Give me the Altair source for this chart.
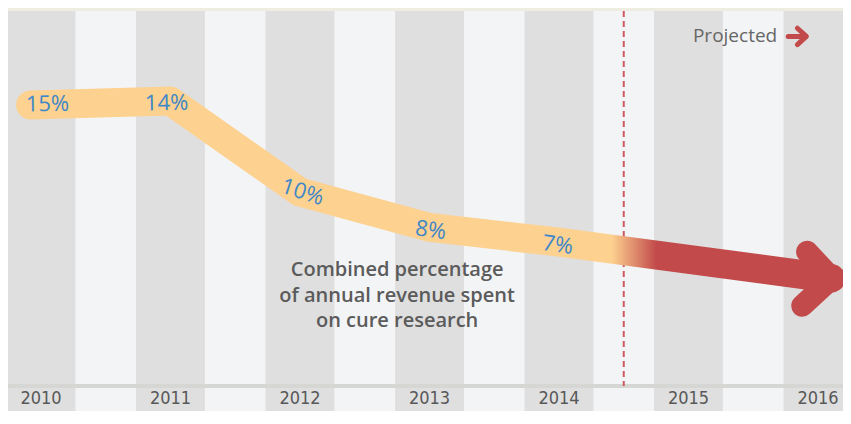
import altair as alt
import pandas as pd

# ---- data ----
years = [2010, 2011, 2012, 2013, 2014, 2015, 2016]

# centre line of the thick band (x in years, y in plotted percentage level)
line_x = [2009.92, 2011.0, 2012.0, 2013.0, 2014.0, 2016.1]
line_level = [14.35, 14.55, 9.9, 8.1, 7.35, 5.5]

# arrow head (chevron) points
head_x = [2015.916, 2016.107, 2015.878]
head_level = [6.85, 5.5, 4.1]

# value labels
label_text = ["15%", "14%", "10%", "8%", "7%"]
label_x = [2010.05, 2010.97, 2012.02, 2013.01, 2013.99]
label_level = [14.4, 14.45, 9.9, 7.95, 7.2]

# small "Projected" arrow icon (shaft + chevron)
icon_part = ["shaft", "shaft", "tip", "tip", "tip"]
icon_x = [2015.77, 2015.905, 2015.841, 2015.91, 2015.841]
icon_level = [17.85, 17.85, 18.27, 17.85, 17.43]

projection_start = 2014.5
note_text = "Combined percentage\nof annual revenue spent\non cure research"

# ---- styling ----
ORANGE = "#fdd190"
RED = "#c24a4a"
BLUE = "#3e87c8"
DARK = "#dfdfdf"
LIGHT = "#f3f4f6"
CREAM = "#efede1"

W, H = 835, 400
TOP = 19.15
xs = alt.Scale(domain=[2009.7452, 2016.1931], nice=False, zero=False)
ys = alt.Scale(domain=[-1.277, TOP], nice=False, zero=False)

stripe_df = pd.DataFrame({"year": years})
line_df = pd.DataFrame({"x": line_x, "y": line_level, "o": range(len(line_x))})
head_df = pd.DataFrame({"x": head_x, "y": head_level, "o": range(len(head_x))})
label_df = pd.DataFrame({"x": label_x, "y": label_level, "t": label_text})
icon_df = pd.DataFrame({"part": icon_part, "x": icon_x, "y": icon_level,
                        "o": range(len(icon_x))})

stripes = alt.Chart(stripe_df).transform_calculate(
    x0="datum.year - 0.266", x1="datum.year + 0.266"
).mark_rect(color=DARK).encode(
    x=alt.X("x0:Q", scale=xs, axis=None),
    x2="x1:Q",
    y=alt.value(0),
    y2=alt.value(H),
)

year_labels = alt.Chart(stripe_df).mark_text(
    font="DejaVu Sans Condensed, Liberation Sans Narrow, sans-serif",
    fontSize=18, color="#585858", baseline="middle", align="center"
).encode(
    x=alt.X("year:Q", scale=xs, axis=None),
    y=alt.datum(-0.66, scale=ys, axis=None),
    text=alt.Text("year:N"),
)

baseline_rule = alt.Chart(stripe_df).mark_rule(color="#d6d6d3", strokeWidth=3).encode(
    y=alt.datum(0, scale=ys, axis=None),
)

proj_rule = alt.Chart(pd.DataFrame({"x": [projection_start]})).mark_rule(
    color="#cc5a60", strokeWidth=2, strokeDash=[6, 4]
).encode(
    x=alt.X("x:Q", scale=xs, axis=None),
    y=alt.datum(TOP, scale=ys, axis=None),
    y2=alt.datum(0),
)

gradient = {
    "gradient": "linear", "x1": 0, "y1": 0, "x2": 1, "y2": 0,
    "stops": [
        {"offset": 0, "color": ORANGE},
        {"offset": 0.726, "color": ORANGE},
        {"offset": 0.782, "color": RED},
        {"offset": 1, "color": RED},
    ],
}

band = alt.Chart(line_df).mark_line(
    stroke=gradient, strokeWidth=29, strokeCap="round", strokeJoin="round", clip=True
).encode(
    x=alt.X("x:Q", scale=xs, axis=None),
    y=alt.Y("y:Q", scale=ys, axis=None),
    order="o:Q",
)

head = alt.Chart(head_df).mark_line(
    color=RED, strokeWidth=22, strokeCap="round", strokeJoin="miter", clip=True
).encode(
    x=alt.X("x:Q", scale=xs, axis=None),
    y=alt.Y("y:Q", scale=ys, axis=None),
    order="o:Q",
)

angles = {"15%": -1, "14%": -1, "10%": 18, "8%": 8, "7%": 8}
label_layers = []
for t, a in angles.items():
    label_layers.append(
        alt.Chart(label_df).transform_filter(alt.datum.t == t).mark_text(
            font="Open Sans", fontSize=22, color=BLUE, angle=a % 360,
            baseline="middle", align="center"
        ).encode(
            x=alt.X("x:Q", scale=xs, axis=None),
            y=alt.Y("y:Q", scale=ys, axis=None),
            text="t:N",
        )
    )

note = alt.Chart(pd.DataFrame({"t": [note_text]})).mark_text(
    font="Open Sans", fontSize=20, fontWeight=600, color="#5b5b5b",
    align="center", baseline="alphabetic", lineHeight=25.5, lineBreak="\n"
).encode(
    x=alt.datum(2012.75, scale=xs, axis=None),
    y=alt.datum(5.6, scale=ys, axis=None),
    text="t:N",
)

projected = alt.Chart(pd.DataFrame({"t": ["Projected"]})).mark_text(
    font="Open Sans", fontSize=19, color="#666666", align="right", baseline="middle"
).encode(
    x=alt.datum(2015.685, scale=xs, axis=None),
    y=alt.datum(17.85, scale=ys, axis=None),
    text="t:N",
)

proj_icon = alt.Chart(icon_df).mark_line(
    color=RED, strokeWidth=5, strokeCap="round", strokeJoin="round"
).encode(
    x=alt.X("x:Q", scale=xs, axis=None),
    y=alt.Y("y:Q", scale=ys, axis=None),
    detail="part:N",
    order="o:Q",
)

chart = alt.layer(
    stripes, baseline_rule, proj_rule, band, head, *label_layers, note,
    year_labels, projected, proj_icon
).properties(
    width=W, height=H, background=CREAM,
    padding={"top": 3, "left": 0, "right": 0, "bottom": 0},
    autosize=alt.AutoSizeParams(type="none"),
).configure_view(fill=LIGHT, stroke=None)

chart.save("out.html", embed_options={"renderer": "svg", "actions": False})
